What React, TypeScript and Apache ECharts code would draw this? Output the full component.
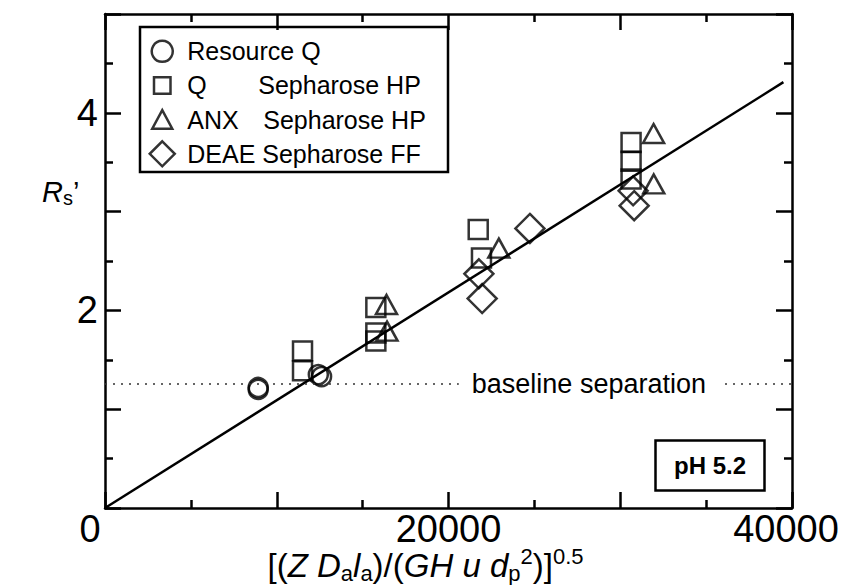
import React, { useEffect, useRef } from "react";
import * as echarts from "echarts";

// ---- data ----
const resourceQ: number[][] = [[8920, 1.22], [8920, 1.2], [12420, 1.35], [12610, 1.33]];
const qSepharoseHP: number[][] = [
  [11500, 1.59], [11500, 1.39], [15770, 2.03], [15770, 1.77], [15770, 1.69],
  [21730, 2.82], [21920, 2.53], [30630, 3.7], [30630, 3.51], [30630, 3.33],
];
const anxSepharoseHP: number[][] = [[16390, 2.06], [16420, 1.79], [22930, 2.63], [31940, 3.79], [31950, 3.28]];
const deaeSepharoseFF: number[][] = [[21770, 2.37], [21960, 2.12], [24740, 2.83], [30750, 3.21], [30810, 3.06]];
const fitLine: number[][] = [[0, 0], [39500, 4.31]];
const baselineValue = 1.26;
const baselineGap = [20600, 36100];
const xTickLabels = [0, 20000, 40000];
const yTickLabels = [2, 4];
const seriesNames = ["Resource Q", "Q Sepharose HP", "ANX Sepharose HP", "DEAE Sepharose FF"];

const FONT = "Liberation Sans, Arial, Helvetica, sans-serif";

const icons: Record<string, string> = {
  "Resource Q": "path://M0,0M100,100M50,8A42,42,0,1,1,49.99,8Z",
  "Q Sepharose HP": "path://M0,0M100,100M17,17L83,17L83,83L17,83Z",
  "ANX Sepharose HP": "path://M0,0M100,100M50,12L90,86L10,86Z",
  "DEAE Sepharose FF": "path://M50,0L100,50L50,100L0,50Z",
};

export default function App() {
  const ref = useRef<HTMLDivElement>(null);
  useEffect(() => {
    if (!ref.current) return;
    const chart = echarts.init(ref.current, null, { renderer: "svg" });
    const hollow = { color: "transparent", borderColor: "#000", borderWidth: 2.5 };
    const axisCommon = {
      axisLine: { show: true, onZero: false, lineStyle: { color: "#000", width: 2.5 } },
      axisTick: { show: true, inside: true, length: 16, lineStyle: { color: "#000", width: 2.5 } },
      minorTick: { show: true, splitNumber: 2, length: 8, lineStyle: { color: "#000", width: 2.5 } },
      splitLine: { show: false },
      minorSplitLine: { show: false },
    };
    chart.setOption({
      animation: false,
      backgroundColor: "#fff",
      grid: { left: 105, top: 14, width: 687, height: 494, show: false, containLabel: false, outerBoundsMode: "none" },
      xAxis: [
        {
          type: "value", position: "bottom", min: 0, max: 40000, interval: 10000,
          ...axisCommon,
          axisLabel: {
            color: "#000", fontSize: 38, fontFamily: FONT, margin: 2,
            formatter: (v: number) =>
              xTickLabels.includes(v) ? (v === 0 ? "{z|0}" : v === 40000 ? "{e|40000}" : String(v)) : "",
            rich: {
              z: { fontSize: 38, fontFamily: FONT, color: "#000", padding: [0, 30, 0, 0] },
              e: { fontSize: 38, fontFamily: FONT, color: "#000", padding: [0, 12, 0, 0] },
            },
          },
          name: "{n|[(}{i|Z D}{s|a}{i|l}{s|a}{n|)/(}{i|GH u d}{s|p}{p|2}{n|)]}{p|0.5}",
          nameLocation: "middle",
          nameGap: 37,
          nameMoveOverlap: false,
          nameTextStyle: {
            color: "#000", fontFamily: FONT, fontSize: 33, padding: [0, 46, 0, 0],
            rich: {
              n: { fontSize: 33, fontFamily: FONT, color: "#000" },
              i: { fontSize: 33, fontFamily: FONT, fontStyle: "italic", color: "#000" },
              s: { fontSize: 22, fontFamily: FONT, color: "#000", padding: [16, 0, 0, 0] },
              p: { fontSize: 22, fontFamily: FONT, color: "#000", padding: [0, 0, 18, 0] },
            },
          },
        },
        {
          type: "value", position: "top", min: 0, max: 40000, interval: 10000,
          ...axisCommon,
          axisLabel: { show: false },
        },
      ],
      yAxis: [
        {
          type: "value", position: "left", min: 0, max: 5, interval: 1,
          ...axisCommon,
          axisLabel: {
            color: "#000", fontSize: 38, fontFamily: FONT, margin: 7,
            formatter: (v: number) => (yTickLabels.includes(v) ? String(v) : ""),
          },
        },
        {
          type: "value", position: "right", min: 0, max: 5, interval: 1,
          ...axisCommon,
          axisLabel: { show: false },
        },
      ],
      legend: {
        show: true,
        orient: "vertical",
        left: 148.5,
        top: 37.5,
        padding: 0,
        itemWidth: 25,
        itemHeight: 25,
        itemGap: 6.7,
        itemStyle: hollow,
        data: seriesNames.map((n) => ({ name: n, icon: icons[n] })),
        formatter: (name: string) => {
          if (name === "Q Sepharose HP") return "{g| }{a|Q}{t|Sepharose HP}";
          if (name === "ANX Sepharose HP") return "{g| }{b|ANX}{t|Sepharose HP}";
          return "{g| }{t|" + name + "}";
        },
        textStyle: {
          color: "#000", fontSize: 25, fontFamily: FONT,
          rich: {
            g: { width: 7.5, fontSize: 25, fontFamily: FONT },
            a: { width: 71, fontSize: 25, fontFamily: FONT, color: "#000" },
            b: { width: 76, fontSize: 25, fontFamily: FONT, color: "#000" },
            t: { fontSize: 25, fontFamily: FONT, color: "#000" },
          },
        },
      },
      title: {
        text: "pH 5.2",
        left: 655,
        top: 440,
        padding: [13, 19, 13, 19],
        borderColor: "#000",
        borderWidth: 2.5,
        textStyle: { fontSize: 24, fontWeight: "bold", fontFamily: FONT, color: "#000", lineHeight: 25 },
      },
      graphic: [
        {
          type: "rect",
          shape: { x: 140, y: 27, width: 308, height: 145 },
          style: { fill: "#fff", stroke: "#000", lineWidth: 2.5 },
          z: -1,
          zlevel: 0,
        },
        {
          type: "text",
          left: 42,
          top: 177,
          style: {
            text: "{r|R}{s|s}{q|’}",
            rich: {
              r: { fontSize: 29, fontStyle: "italic", fontFamily: FONT, fill: "#000" },
              s: { fontSize: 20, fontFamily: FONT, fill: "#000", padding: [12, 0, 0, 0] },
              q: { fontSize: 29, fontFamily: FONT, fill: "#000" },
            },
          },
        },
      ],
      series: [
        {
          name: "fit", type: "line", data: fitLine, symbol: "none", silent: true,
          lineStyle: { color: "#000", width: 2.5 }, z: 1,
          markLine: {
            silent: true, symbol: ["none", "none"],
            lineStyle: { color: "#333", width: 1.5, type: [2, 6] },
            label: { show: false },
            data: [
              [
                {
                  coord: [0, baselineValue],
                  label: {
                    show: true, position: "end", distance: 13, formatter: "baseline separation",
                    fontSize: 27, fontFamily: FONT, color: "#000",
                  },
                },
                { coord: [baselineGap[0], baselineValue] },
              ],
              [{ coord: [baselineGap[1], baselineValue] }, { coord: [40000, baselineValue] }],
            ],
          },
        },
        { name: seriesNames[0], type: "scatter", data: resourceQ, symbol: "circle", symbolSize: 19, itemStyle: hollow, z: 3 },
        { name: seriesNames[1], type: "scatter", data: qSepharoseHP, symbol: "rect", symbolSize: 19, itemStyle: hollow, z: 3 },
        { name: seriesNames[2], type: "scatter", data: anxSepharoseHP, symbol: "triangle", symbolSize: [21, 19], itemStyle: hollow, z: 3 },
        { name: seriesNames[3], type: "scatter", data: deaeSepharoseFF, symbol: "diamond", symbolSize: 29, itemStyle: hollow, z: 3 },
      ],
    });
    return () => chart.dispose();
  }, []);
  return <div ref={ref} style={{ position: "absolute", left: 0, top: 0, width: 841, height: 585 }} />;
}
